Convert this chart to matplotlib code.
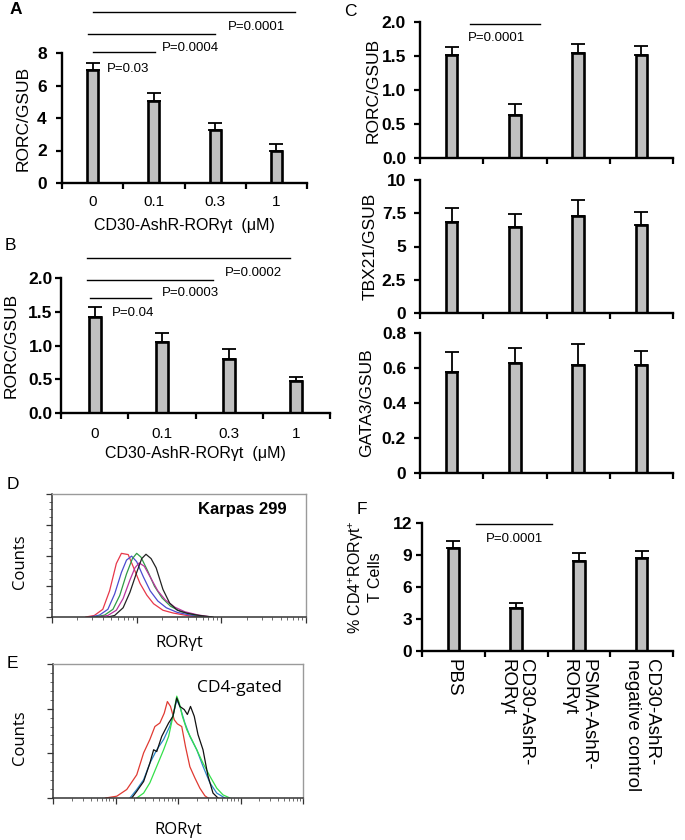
import numpy as np
import matplotlib
matplotlib.use("Agg")
import matplotlib.pyplot as plt

plt.rcParams["font.family"] = ["Liberation Sans", "DejaVu Sans"]
plt.rcParams["mathtext.fontset"] = "custom"
plt.rcParams["mathtext.rm"] = "Liberation Sans"
plt.rcParams["mathtext.it"] = "Liberation Sans:italic"
plt.rcParams["mathtext.bf"] = "Liberation Sans:bold"

# ── data ─────────────────────────────────────────────────────────────────────
DOSES = ["0", "0.1", "0.3", "1"]
A_MEAN = [6.93, 5.05, 3.24, 1.97]
A_ERR = [0.47, 0.49, 0.45, 0.41]
A_PVALS = ["P=0.03", "P=0.0004", "P=0.0001"]

B_MEAN = [1.42, 1.05, 0.80, 0.47]
B_ERR = [0.15, 0.13, 0.15, 0.07]
B_PVALS = ["P=0.04", "P=0.0003", "P=0.0002"]

GROUPS = ["PBS", "CD30-AshR-\nRORγt", "PSMA-AshR-\nRORγt", "CD30-AshR-\nnegative control"]
RORC_MEAN = [1.51, 0.63, 1.55, 1.51]
RORC_ERR = [0.12, 0.16, 0.12, 0.14]
TBX21_MEAN = [6.83, 6.43, 7.30, 6.60]
TBX21_ERR = [1.10, 1.02, 1.20, 1.03]
GATA3_MEAN = [0.58, 0.63, 0.62, 0.62]
GATA3_ERR = [0.11, 0.085, 0.115, 0.08]
F_MEAN = [9.63, 4.00, 8.44, 8.69]
F_ERR = [0.69, 0.53, 0.72, 0.65]
C_PVAL = "P=0.0001"
F_PVAL = "P=0.0001"

# flow histograms, x in log decades, y in counts (axis units)
D_RED_X = [0.40, 0.50, 0.60, 0.68, 0.76, 0.82, 0.90, 0.96, 1.04, 1.12, 1.20, 1.31, 1.43, 1.59, 1.75]
D_RED_Y = [0.00, 0.05, 0.25, 0.85, 1.74, 2.07, 2.03, 1.63, 1.09, 0.71, 0.43, 0.22, 0.13, 0.05, 0.00]
D_BLUE_X = [0.45, 0.56, 0.66, 0.74, 0.82, 0.88, 0.94, 1.00, 1.08, 1.16, 1.25, 1.35, 1.48, 1.62, 1.80]
D_BLUE_Y = [0.00, 0.06, 0.25, 0.75, 1.45, 1.85, 1.98, 1.80, 1.30, 0.85, 0.52, 0.30, 0.15, 0.07, 0.00]
D_GREEN_X = [0.50, 0.62, 0.72, 0.80, 0.88, 0.95, 1.00, 1.05, 1.13, 1.21, 1.30, 1.40, 1.52, 1.66, 1.82]
D_GREEN_Y = [0.00, 0.06, 0.25, 0.70, 1.40, 1.90, 2.07, 1.95, 1.50, 1.00, 0.62, 0.35, 0.18, 0.08, 0.00]
D_MAG_X = [0.55, 0.66, 0.76, 0.84, 0.92, 0.98, 1.03, 1.09, 1.17, 1.25, 1.34, 1.45, 1.57, 1.72, 1.88]
D_MAG_Y = [0.00, 0.05, 0.22, 0.60, 1.20, 1.60, 1.76, 1.65, 1.25, 0.85, 0.55, 0.32, 0.17, 0.07, 0.00]
D_BLACK_X = [0.66, 0.74, 0.84, 0.92, 1.00, 1.06, 1.11, 1.17, 1.23, 1.31, 1.39, 1.48, 1.60, 1.74, 1.90]
D_BLACK_Y = [0.00, 0.05, 0.30, 0.80, 1.45, 1.90, 2.04, 1.90, 1.60, 0.90, 0.45, 0.22, 0.12, 0.05, 0.00]

E_RED_X = [0.84, 1.02, 1.18, 1.34, 1.45, 1.55, 1.63, 1.71, 1.78, 1.83, 1.88, 1.94, 1.99, 2.06, 2.12, 2.19, 2.27, 2.35, 2.43, 2.48]
E_RED_Y = [0.00, 0.04, 0.19, 0.52, 1.01, 1.31, 1.60, 1.68, 1.90, 2.16, 2.05, 1.75, 1.66, 1.60, 1.15, 0.70, 0.45, 0.22, 0.05, 0.00]
E_BLUE_X = [1.23, 1.34, 1.45, 1.55, 1.66, 1.77, 1.87, 1.93, 1.98, 2.03, 2.11, 2.19, 2.30, 2.40, 2.51, 2.62, 2.75]
E_BLUE_Y = [0.00, 0.19, 0.41, 0.78, 1.08, 1.31, 1.61, 1.90, 2.20, 2.05, 1.68, 1.38, 1.08, 0.71, 0.34, 0.11, 0.00]
E_GREEN_X = [1.34, 1.45, 1.55, 1.66, 1.77, 1.85, 1.92, 1.98, 2.02, 2.07, 2.14, 2.22, 2.30, 2.40, 2.51, 2.62, 2.72, 2.83]
E_GREEN_Y = [0.00, 0.11, 0.34, 0.71, 1.08, 1.38, 1.83, 2.28, 2.13, 1.83, 1.53, 1.31, 1.08, 0.78, 0.49, 0.22, 0.07, 0.00]
E_BLACK_X = [1.26, 1.34, 1.45, 1.55, 1.61, 1.66, 1.74, 1.85, 1.92, 1.98, 2.03, 2.10, 2.15, 2.20, 2.26, 2.32, 2.40, 2.48, 2.56, 2.64]
E_BLACK_Y = [0.00, 0.15, 0.37, 0.78, 1.08, 1.04, 1.38, 1.68, 1.83, 2.24, 2.05, 1.98, 1.87, 2.05, 1.83, 1.42, 1.08, 0.49, 0.11, 0.00]

BAR_FILL = "#c0c0c0"
W, H = 685, 840

fig = plt.figure(figsize=(W / 100, H / 100), dpi=100)


def add_ax(l, t, r, b):
    """axes from pixel box (left, top, right, bottom)"""
    return fig.add_axes([l / W, 1 - b / H, (r - l) / W, (b - t) / H])


def bar_panel(ax, means, errs, ylim, yticks, ylabels, ylabel, label_x,
              label_size=12.5, ypad=5):
    x = np.arange(len(means))
    ax.bar(x, means, width=0.18, color=BAR_FILL, edgecolor="black", linewidth=1.9, zorder=2)
    ax.errorbar(x, means, yerr=[np.zeros(len(errs)), errs], fmt="none", ecolor="black",
                elinewidth=1.3, capsize=5, capthick=1.3, zorder=1)
    ax.set_xlim(-0.5, len(means) - 0.5)
    ax.set_ylim(*ylim)
    ax.set_yticks(yticks)
    ax.set_yticklabels(ylabels, fontweight="bold", fontsize=12.5)
    ax.set_xticks(x)
    ax.set_xticklabels([])
    ax.set_xticks(np.arange(len(means) + 1) - 0.5, minor=True)
    ax.tick_params(axis="x", which="major", length=0)
    ax.tick_params(axis="x", which="minor", length=4, width=1.6, direction="out")
    ax.tick_params(axis="y", length=4, width=1.6, direction="out", pad=ypad)
    for s in ["top", "right"]:
        ax.spines[s].set_visible(False)
    for s in ["left", "bottom"]:
        ax.spines[s].set_linewidth(1.7)
    ax.set_ylabel(ylabel, fontsize=label_size)
    ax.yaxis.set_label_coords(label_x, 0.5)


def sig(ax, x0, x1, y, text, tx, ty):
    ax.plot([x0, x1], [y, y], color="black", lw=1.0, clip_on=False)
    ax.text(tx, ty, text, fontsize=9.5, ha="left", va="center")


def flow_panel(ax, curves, xmax, ymax, xpad, label_x):
    for xs, ys, col in curves:
        ax.plot(xs, ys, color=col, lw=0.9)
    ax.set_xlim(0, xmax)
    ax.set_ylim(0, ymax)
    ax.set_xticks(range(int(xmax) + 1))
    minors = [d + np.log10(k) for d in range(int(xmax)) for k in range(2, 10)]
    ax.set_xticks(minors, minor=True)
    ax.set_yticks(range(int(ymax) + 1))
    ax.set_yticks(np.arange(0, ymax, 0.25), minor=True)
    ax.set_xticklabels([])
    ax.set_yticklabels([])
    ax.tick_params(which="major", length=4, width=0.9, direction="out", color="#333333")
    ax.tick_params(which="minor", length=2, width=0.6, direction="out", color="#555555")
    for s in ["top", "right"]:
        ax.spines[s].set_color("#9a9a9a")
        ax.spines[s].set_linewidth(1.0)
    for s in ["left", "bottom"]:
        ax.spines[s].set_color("#333333")
        ax.spines[s].set_linewidth(1.1)
    ax.set_ylabel("Counts", fontsize=12, family="Open Sans")
    ax.yaxis.set_label_coords(label_x, 0.45)
    ax.set_xlabel("RORγt", fontsize=12, family="Open Sans", labelpad=xpad)


# ── A ────────────────────────────────────────────────────────────────────────
axA = add_ax(62, 53, 307, 183)
bar_panel(axA, A_MEAN, A_ERR, (0, 8), [0, 2, 4, 6, 8], ["0", "2", "4", "6", "8"],
          "RORC/GSUB", -0.13, ypad=7)
axA.set_xticklabels(DOSES, fontsize=11)
axA.tick_params(axis="x", which="major", pad=9)
axA.set_xlabel("CD30-AshR-RORγt  (μM)", fontsize=11.5, labelpad=6)
sig(axA, 0.0, 1.02, 8.08, A_PVALS[0], 0.23, 7.0)
sig(axA, -0.08, 2.0, 9.17, A_PVALS[1], 1.13, 8.3)
sig(axA, 0.0, 3.3, 10.52, A_PVALS[2], 2.21, 9.6)

# ── B ────────────────────────────────────────────────────────────────────────
axB = add_ax(61, 278, 330, 413)
bar_panel(axB, B_MEAN, B_ERR, (0, 2), [0, 0.5, 1.0, 1.5, 2.0],
          ["0.0", "0.5", "1.0", "1.5", "2.0"], "RORC/GSUB", -0.158, ypad=2)
axB.set_xticklabels(DOSES, fontsize=11)
axB.tick_params(axis="x", which="major", pad=10)
axB.set_xlabel("CD30-AshR-RORγt  (μM)", fontsize=11.5, labelpad=4)
sig(axB, -0.07, 0.84, 1.707, B_PVALS[0], 0.26, 1.48)
sig(axB, -0.11, 1.76, 1.975, B_PVALS[1], 1.0, 1.78)
sig(axB, -0.11, 2.9, 2.30, B_PVALS[2], 1.94, 2.08)

# ── C ────────────────────────────────────────────────────────────────────────
axC1 = add_ax(420, 22, 673, 158)
bar_panel(axC1, RORC_MEAN, RORC_ERR, (0, 2), [0, 0.5, 1.0, 1.5, 2.0],
          ["0.0", "0.5", "1.0", "1.5", "2.0"], "RORC/GSUB", -0.155, ypad=6)
sig(axC1, 0.29, 1.40, 1.97, C_PVAL, 0.26, 1.76)

axC2 = add_ax(420, 180, 673, 313)
bar_panel(axC2, TBX21_MEAN, TBX21_ERR, (0, 10), [0, 2.5, 5, 7.5, 10],
          ["0", "2.5", "5", "7.5", "10"], "TBX21/GSUB", -0.168, ypad=6)

axC3 = add_ax(420, 333, 673, 473)
bar_panel(axC3, GATA3_MEAN, GATA3_ERR, (0, 0.8), [0, 0.2, 0.4, 0.6, 0.8],
          ["0", "0.2", "0.4", "0.6", "0.8"], "GATA3/GSUB", -0.18, ypad=6)

# ── F ────────────────────────────────────────────────────────────────────────
axF = add_ax(422, 523, 673, 651)
bar_panel(axF, F_MEAN, F_ERR, (0, 12), [0, 3, 6, 9, 12],
          ["0", "3", "6", "9", "12"], "% CD4$^{+}$RORγt$^{+}$\nT Cells", -0.155,
          label_size=11.5, ypad=3)
axF.yaxis.set_label_coords(-0.155, 0.58)
axF.set_xticklabels(GROUPS, fontsize=13.5, rotation=270, ha="center", va="top",
                    multialignment="left", linespacing=1.15)
axF.tick_params(axis="x", which="major", pad=6)
sig(axF, 0.36, 1.57, 11.9, F_PVAL, 0.52, 10.5)

# ── D / E flow histograms ────────────────────────────────────────────────────
axD = add_ax(52, 494, 306, 617)
flow_panel(axD, [(D_RED_X, D_RED_Y, "#e8374a"), (D_BLUE_X, D_BLUE_Y, "#4b4bd0"),
                 (D_GREEN_X, D_GREEN_Y, "#2f9a45"), (D_MAG_X, D_MAG_Y, "#b8359e"),
                 (D_BLACK_X, D_BLACK_Y, "#222222")], 3, 4, 5.5, -0.094)
axD.text(0.925, 0.87, "Karpas 299", transform=axD.transAxes, fontsize=12,
         fontweight="bold", ha="right", va="center")

axE = add_ax(53, 664, 303, 798)
flow_panel(axE, [(E_RED_X, E_RED_Y, "#e03a32"), (E_BLUE_X, E_BLUE_Y, "#2b86c8"),
                 (E_GREEN_X, E_GREEN_Y, "#34e04a"), (E_BLACK_X, E_BLACK_Y, "#111111")],
           4, 3, 9.5, -0.1)
axE.set_yticks(np.arange(0, 3, 0.2), minor=True)
axE.text(0.916, 0.82, "CD4-gated", transform=axE.transAxes, fontsize=12.5,
         family="Open Sans", ha="right", va="center")

# ── panel letters ────────────────────────────────────────────────────────────
for lab, px, py, wt in [("A", 16, 10, "bold"), ("B", 10, 245, "normal"), ("C", 350, 11, "normal"),
                        ("D", 13, 485, "normal"), ("E", 12, 663, "normal"), ("F", 362, 509, "normal")]:
    fig.text(px / W, 1 - py / H, lab, fontsize=12.5, fontweight=wt, ha="center", va="center")

fig.savefig("out.png", dpi=100)
